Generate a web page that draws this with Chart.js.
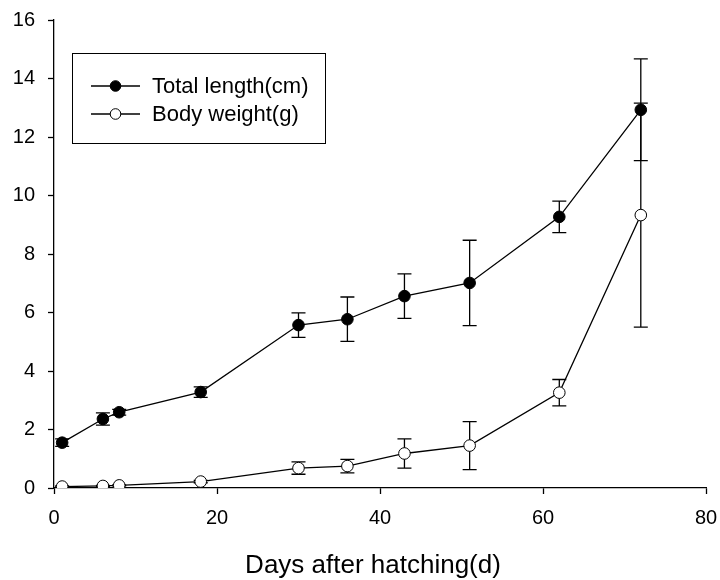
<!DOCTYPE html>
<html>
<head>
<meta charset="utf-8">
<script src="https://cdn.jsdelivr.net/npm/chart.js@4/dist/chart.umd.min.js"></script>
<style>
  html, body { margin: 0; padding: 0; background: #fff; }
  #wrap { width: 720px; height: 580px; }
</style>
</head>
<body>
<div id="wrap"><canvas id="growth_canvas"></canvas></div>
<script>
const days = [1, 6, 8, 18, 30, 36, 43, 51, 62, 72];
const totalLength = [1.55, 2.36, 2.59, 3.28, 5.57, 5.77, 6.56, 7.01, 9.27, 12.93];
const totalLengthErr = [0.13, 0.21, 0.1, 0.18, 0.42, 0.76, 0.76, 1.46, 0.54, 1.74];
const bodyWeight = [0.05, 0.07, 0.09, 0.22, 0.68, 0.75, 1.18, 1.45, 3.26, 9.33];
const bodyWeightErr = [0.02, 0.02, 0.02, 0.04, 0.21, 0.23, 0.5, 0.82, 0.45, 3.83];
const legendLabels = ['Total length(cm)', 'Body weight(g)'];
const xTitle = 'Days after hatching(d)';

const font = 'Liberation Sans, Arial, sans-serif';

function points(values) {
    return days.map((d, i) => ({ x: d, y: values[i] }));
}

// error bars under the markers
const errorBars = {
    id: 'errorBars',
    beforeDatasetsDraw(chart) {
        const ctx = chart.ctx;
        const xs = chart.scales.x, ys = chart.scales.y;
        const sets = [[totalLength, totalLengthErr], [bodyWeight, bodyWeightErr]];
        ctx.save();
        ctx.strokeStyle = '#000';
        ctx.lineWidth = 1.3;
        sets.forEach(([vals, errs]) => {
            days.forEach((d, i) => {
                const x = xs.getPixelForValue(d);
                const yTop = ys.getPixelForValue(vals[i] + errs[i]);
                const yBot = ys.getPixelForValue(vals[i] - errs[i]);
                ctx.beginPath();
                ctx.moveTo(x, yTop); ctx.lineTo(x, yBot);
                ctx.moveTo(x - 7, yTop); ctx.lineTo(x + 7, yTop);
                ctx.moveTo(x - 7, yBot); ctx.lineTo(x + 7, yBot);
                ctx.stroke();
            });
        });
        ctx.restore();
    }
};

// boxed legend inside the plot + x axis title
const boxLegend = {
    id: 'boxLegend',
    afterDraw(chart) {
        const ctx = chart.ctx;
        ctx.save();
        ctx.strokeStyle = '#000';
        ctx.lineWidth = 1;
        ctx.strokeRect(72.5, 53.5, 253, 90);
        const rows = [86, 114];
        const fills = ['#000', '#fff'];
        ctx.font = '22px ' + font;
        ctx.textBaseline = 'middle';
        ctx.fillStyle = '#000';
        rows.forEach((y, i) => {
            ctx.lineWidth = 1.3;
            ctx.beginPath();
            ctx.moveTo(91, y); ctx.lineTo(140, y);
            ctx.stroke();
            ctx.beginPath();
            ctx.arc(115.5, y, 5.3, 0, Math.PI * 2);
            ctx.fillStyle = fills[i];
            ctx.fill();
            ctx.lineWidth = 1;
            ctx.stroke();
            ctx.fillStyle = '#000';
            ctx.fillText(legendLabels[i], 152, y + 1);
        });

        ctx.font = '26px ' + font;
        ctx.textAlign = 'center';
        ctx.textBaseline = 'alphabetic';
        ctx.fillText(xTitle, 373, 573);
        ctx.restore();
    }
};

const growth = document.getElementById('growth_canvas');

new Chart(growth, {
    type: 'line',
    data: {
        datasets: [{
            label: legendLabels[0],
            data: points(totalLength),
            borderColor: '#000',
            borderWidth: 1.3,
            pointRadius: 5.8,
            pointBackgroundColor: '#000',
            pointBorderColor: '#000',
            pointBorderWidth: 1,
            tension: 0
        }, {
            label: legendLabels[1],
            data: points(bodyWeight),
            borderColor: '#000',
            borderWidth: 1.3,
            pointRadius: 5.8,
            pointBackgroundColor: '#fff',
            pointBorderColor: '#000',
            pointBorderWidth: 1,
            tension: 0
        }]
    },
    options: {
        responsive: true,
        maintainAspectRatio: false,
        animation: false,
        layout: { padding: { top: 20, right: 14, left: 0, bottom: 0 } },
        plugins: {
            legend: { display: false },
            tooltip: { enabled: false }
        },
        scales: {
            x: {
                type: 'linear',
                min: 0,
                max: 80,
                afterFit(scale) {
                    scale.height = 92;
                    scale.paddingLeft = 0;
                    scale.paddingRight = 0;
                },
                ticks: { stepSize: 20, color: '#000', padding: 12, font: { family: font, size: 20 } },
                grid: { drawOnChartArea: false, tickLength: 6, tickColor: '#000', tickWidth: 1.3 },
                border: { color: '#000', width: 1.3 }
            },
            y: {
                min: 0,
                max: 16,
                afterFit(scale) {
                    scale.width = 54;
                    scale.paddingTop = 0;
                    scale.paddingBottom = 0;
                },
                ticks: { stepSize: 2, color: '#000', padding: 13, font: { family: font, size: 20 } },
                grid: { drawOnChartArea: false, tickLength: 6, tickColor: '#000', tickWidth: 1.3 },
                border: { color: '#000', width: 1.3 }
            }
        }
    },
    plugins: [errorBars, boxLegend]
});
</script>
</body>
</html>
